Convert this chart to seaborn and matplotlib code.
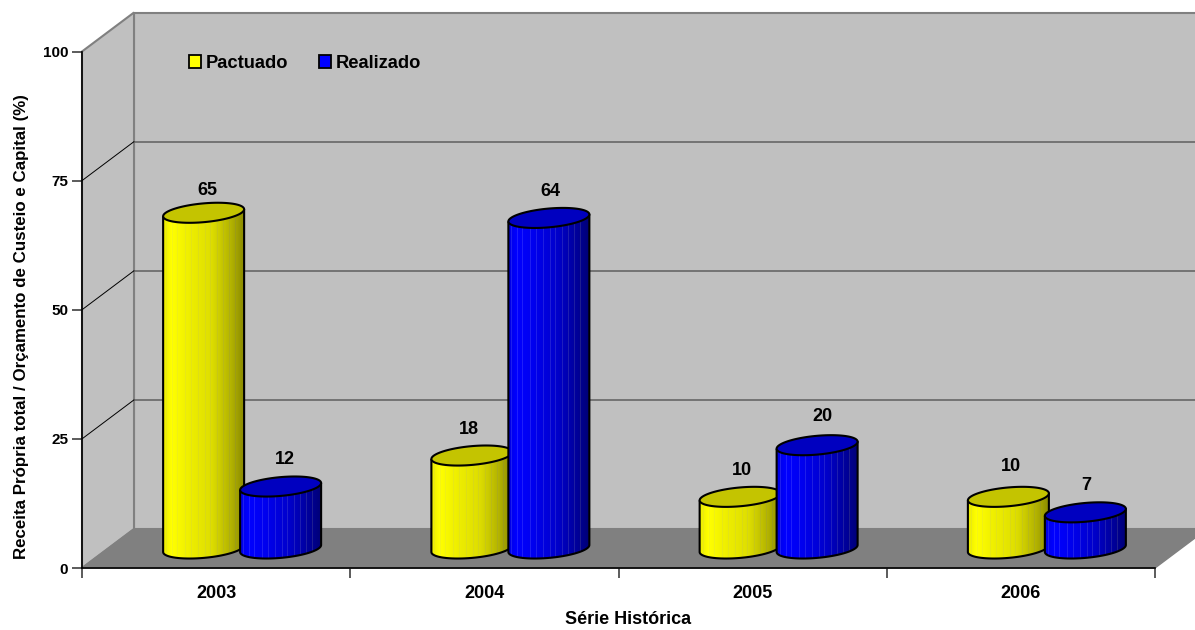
import numpy as np
import pandas as pd
import seaborn as sns
import matplotlib
matplotlib.use("Agg")
import matplotlib.pyplot as plt
from matplotlib.path import Path
from matplotlib.patches import PathPatch, Polygon, Patch, Rectangle

years = ["2003", "2004", "2005", "2006"]
pactuado = [65, 18, 10, 10]
realizado = [12, 64, 20, 7]
series_names = ["Pactuado", "Realizado"]
y_ticks = [0, 25, 50, 75, 100]
x_title = "Série Histórica"
y_title = "Receita Própria total / Orçamento de Custeio e Capital (%)"

sns.set_theme(style="ticks")
plt.rcParams["font.family"] = ["Liberation Sans", "DejaVu Sans"]
plt.rcParams["font.weight"] = "bold"

W, H = 1195, 630
L, R, T, B = 82, 1155, 51.5, 568
fig = plt.figure(figsize=(W / 100, H / 100), dpi=100, facecolor="white")
ax = fig.add_axes([L / W, 1 - B / H, (R - L) / W, (B - T) / H])
ax.patch.set_visible(False)

df = pd.DataFrame({
    "Ano": years * 2,
    "Série": [series_names[0]] * 4 + [series_names[1]] * 4,
    "Valor": pactuado + realizado,
})
sns.barplot(data=df, x="Ano", y="Valor", hue="Série", order=years,
            palette={"Pactuado": "#ffff00", "Realizado": "#0000ff"},
            width=0.574, gap=0, errorbar=None, legend=False, ax=ax, zorder=3)
bars = sorted([p for p in ax.patches if isinstance(p, Rectangle) and p.get_height() > 0],
              key=lambda p: p.get_x())
ax.set_xlim(-0.5, 3.5)
ax.set_ylim(0, 100)

PX, PY = 4 / (R - L), 100 / (B - T)      # one pixel in data units
DX, DY = 52 * PX, 39 * PY                # depth of the 3-D box
GRID, EDGE = "#666666", "#808080"
x0, x1 = -0.5, 3.5

# walls and floor
ax.add_patch(Polygon([(x0 + DX, DY), (x1 + DX, DY), (x1 + DX, 100 + DY), (x0 + DX, 100 + DY)],
                     closed=True, fc="#c0c0c0", ec=EDGE, lw=1.5, clip_on=False, zorder=0))
ax.add_patch(Polygon([(x0, 0), (x0 + DX, DY), (x0 + DX, 100 + DY), (x0, 100)],
                     closed=True, fc="#c0c0c0", ec=EDGE, lw=1.5, clip_on=False, zorder=0.5))
ax.add_patch(Polygon([(x0, 0), (x1, 0), (x1 + DX, DY), (x0 + DX, DY)],
                     closed=True, fc="#808080", ec=EDGE, lw=1.0, clip_on=False, zorder=1))
for v in y_ticks[1:-1]:
    ax.plot([x0 + DX, x1 + DX], [v + DY, v + DY], color=GRID, lw=1.2, clip_on=False, zorder=1)
    ax.plot([x0, x0 + DX], [v, v + DY], color="black", lw=0.7, clip_on=False, zorder=1)

# cylinders from the bars seaborn placed
yellow_stops = [235, 255, 240, 222, 178, 140]
blue_stops = [228, 255, 240, 205, 155, 120]
stop_pos = [0, .1, .3, .6, .85, 1]
stripe_cols = [3, 9, 14, 22, 28, 35, 42, 47, 54, 60, 66, 72]
# nudges of the value labels, in pixels (right, down)
label_nudges = [(2, 6), (2, 1), (-5, 2), (0, 2), (0, 2), (3, -1), (1, -2), (-1, 1)]


def body_image(is_yellow):
    f = np.linspace(0, 1, 81)
    if is_yellow:
        lvl = np.interp(f, stop_pos, yellow_stops)
        img = np.stack([lvl, lvl, np.zeros_like(lvl)], axis=1)
        img[stripe_cols, 0:2] -= 9
        img[stripe_cols, 2] += 22
    else:
        lvl = np.interp(f, stop_pos, blue_stops)
        img = np.stack([np.zeros_like(lvl), np.zeros_like(lvl), lvl], axis=1)
        img[stripe_cols, 0:2] += 30
    return np.clip(img, 0, 255)[None, :, :] / 255


SHEAR, SEMI = 3.5 * PY, 9.4 * PY
for n, bar in enumerate(bars):
    is_yellow = n % 2 == 0
    cx = bar.get_x() + bar.get_width() / 2 + DX / 2
    hw = bar.get_width() / 2 * 1.052
    base = DY / 2
    top = bar.get_height() + base
    z = 3 + n * 0.1
    bar.set_x(cx - bar.get_width() / 2)
    bar.set_y(base)
    bar.set_zorder(z)

    t_low = np.linspace(np.pi, 2 * np.pi, 60)
    low = np.c_[cx + hw * np.cos(t_low), base + SHEAR * np.cos(t_low) + SEMI * np.sin(t_low)]
    outline = np.vstack([[cx - hw, top - SHEAR], low, [cx + hw, top + SHEAR], [cx - hw, top - SHEAR]])
    cyl = PathPatch(Path(outline), fc="none", ec="black", lw=1.5, zorder=z + 0.03,
                    clip_on=False, joinstyle="round")
    ax.add_patch(cyl)
    bar.set_clip_path(cyl)
    im = ax.imshow(body_image(is_yellow), extent=[cx - hw, cx + hw, base - 12 * PY, top + 12 * PY],
                   aspect="auto", interpolation="nearest", zorder=z + 0.01)
    im.set_clip_path(cyl)

    t = np.linspace(0, 2 * np.pi, 120)
    cap = np.c_[cx + hw * np.cos(t), top + SHEAR * np.cos(t) + SEMI * np.sin(t)]
    ax.add_patch(Polygon(cap, closed=True, fc="#c4c400" if is_yellow else "#0000c0",
                         ec="black", lw=1.5, zorder=z + 0.05, clip_on=False))
    nx, ny = label_nudges[n]
    ax.text(cx + (2 + nx) * PX, top + (28 - ny) * PY, f"{bar.get_height():.0f}", ha="center", va="center",
            fontsize=13, fontweight="bold", color="black", zorder=10)

ax.set_xlim(-0.5, 3.5)
ax.set_ylim(0, 100)

# axes
sns.despine(ax=ax, top=True, right=True)
for s in ("left", "bottom"):
    ax.spines[s].set_color("black")
    ax.spines[s].set_linewidth(1.2)
    ax.spines[s].set_zorder(2)
ax.set_yticks(y_ticks)
ax.set_yticklabels([str(v) for v in y_ticks], fontsize=11, fontweight="bold", color="black")
ax.tick_params(axis="y", length=7, width=1.2, color="#404040", pad=3)
ax.set_xticks(np.arange(-0.5, 3.6, 1))
ax.set_xticklabels([])
ax.tick_params(axis="x", which="major", length=7, width=1.2, color="#404040")
ax.set_xticks(range(4), labels=years, minor=True)
ax.tick_params(axis="x", which="minor", length=0, pad=12, labelsize=13, labelcolor="black")
for lab in ax.get_xticklabels(minor=True):
    lab.set_fontweight("bold")

ax.set_xlabel(x_title, fontsize=13, fontweight="bold", color="black")
ax.xaxis.set_label_coords((628 - L) / (R - L), (B - 620) / (B - T), transform=ax.transAxes)
ax.xaxis.label.set_verticalalignment("center")
ax.set_ylabel(y_title, fontsize=12.2, fontweight="bold", color="black")
ax.yaxis.set_label_coords((22 - L) / (R - L), (B - 327) / (B - T), transform=ax.transAxes)
ax.yaxis.label.set_verticalalignment("center")

handles = [Patch(fc="#ffff00", ec="black", lw=1.3), Patch(fc="#0000ff", ec="black", lw=1.3)]
ax.legend(handles, series_names, ncol=2, frameon=False, loc="center left",
          bbox_to_anchor=(189 / W, 1 - 63.5 / H), bbox_transform=fig.transFigure,
          prop={"size": 13.2, "weight": "bold"}, labelcolor="black",
          handlelength=0.66, handleheight=0.66,
          handletextpad=0.25, columnspacing=1.7, borderpad=0, borderaxespad=0)

fig.savefig("out.png", dpi=100, facecolor="white")
